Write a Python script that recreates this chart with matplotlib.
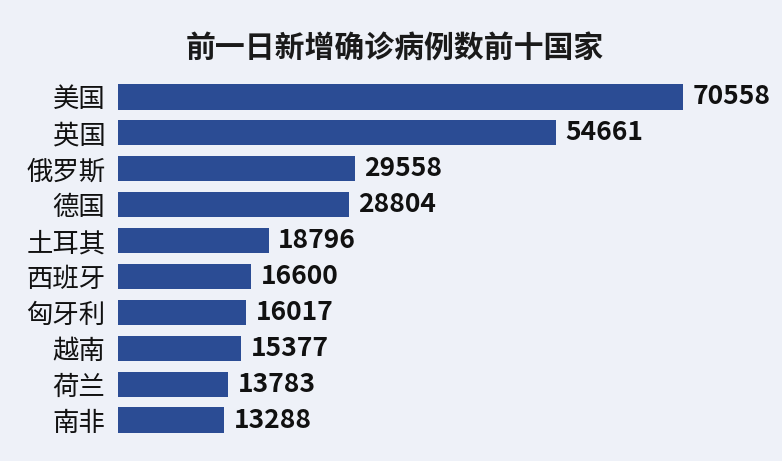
import matplotlib
matplotlib.use("Agg")
import matplotlib.pyplot as plt

plt.rcParams['font.family'] = ['Noto Sans CJK SC', 'DejaVu Sans']

countries = ["美国", "英国", "俄罗斯", "德国", "土耳其", "西班牙", "匈牙利", "越南", "荷兰", "南非"]
cases = [70558, 54661, 29558, 28804, 18796, 16600, 16017, 15377, 13783, 13288]
title = "前一日新增确诊病例数前十国家"

bg = "#eef1f8"
bar_color = "#2b4c94"

fig = plt.figure(figsize=(7.82, 4.61), dpi=100, facecolor=bg)
ax = fig.add_axes([118 / 782, 1 - 438 / 461, (683 - 118) / 782, (438 - 79) / 461])
ax.set_facecolor(bg)

y = list(range(len(countries)))
ax.barh(y, cases, height=0.7, color=bar_color)
ax.set_xlim(0, max(cases))
ax.set_ylim(len(countries) - 0.5, -0.5)

for yi, v in zip(y, cases):
    ax.text(v + 1200, yi, str(v), va="center", ha="left", fontsize=19,
            fontweight="bold", color="#111111", clip_on=False)

ax.set_yticks(y)
ax.set_yticklabels(countries, fontsize=19, fontweight="medium", color="#111111")
ax.tick_params(axis="y", length=0, pad=9)
ax.set_xticks([])
for s in ax.spines.values():
    s.set_visible(False)

fig.text(395 / 782, 1 - 48 / 461, title, ha="center", va="center",
         fontsize=21.5, fontweight="bold", color="#1a1a1a")

fig.savefig("out.png", dpi=100, facecolor=bg)
